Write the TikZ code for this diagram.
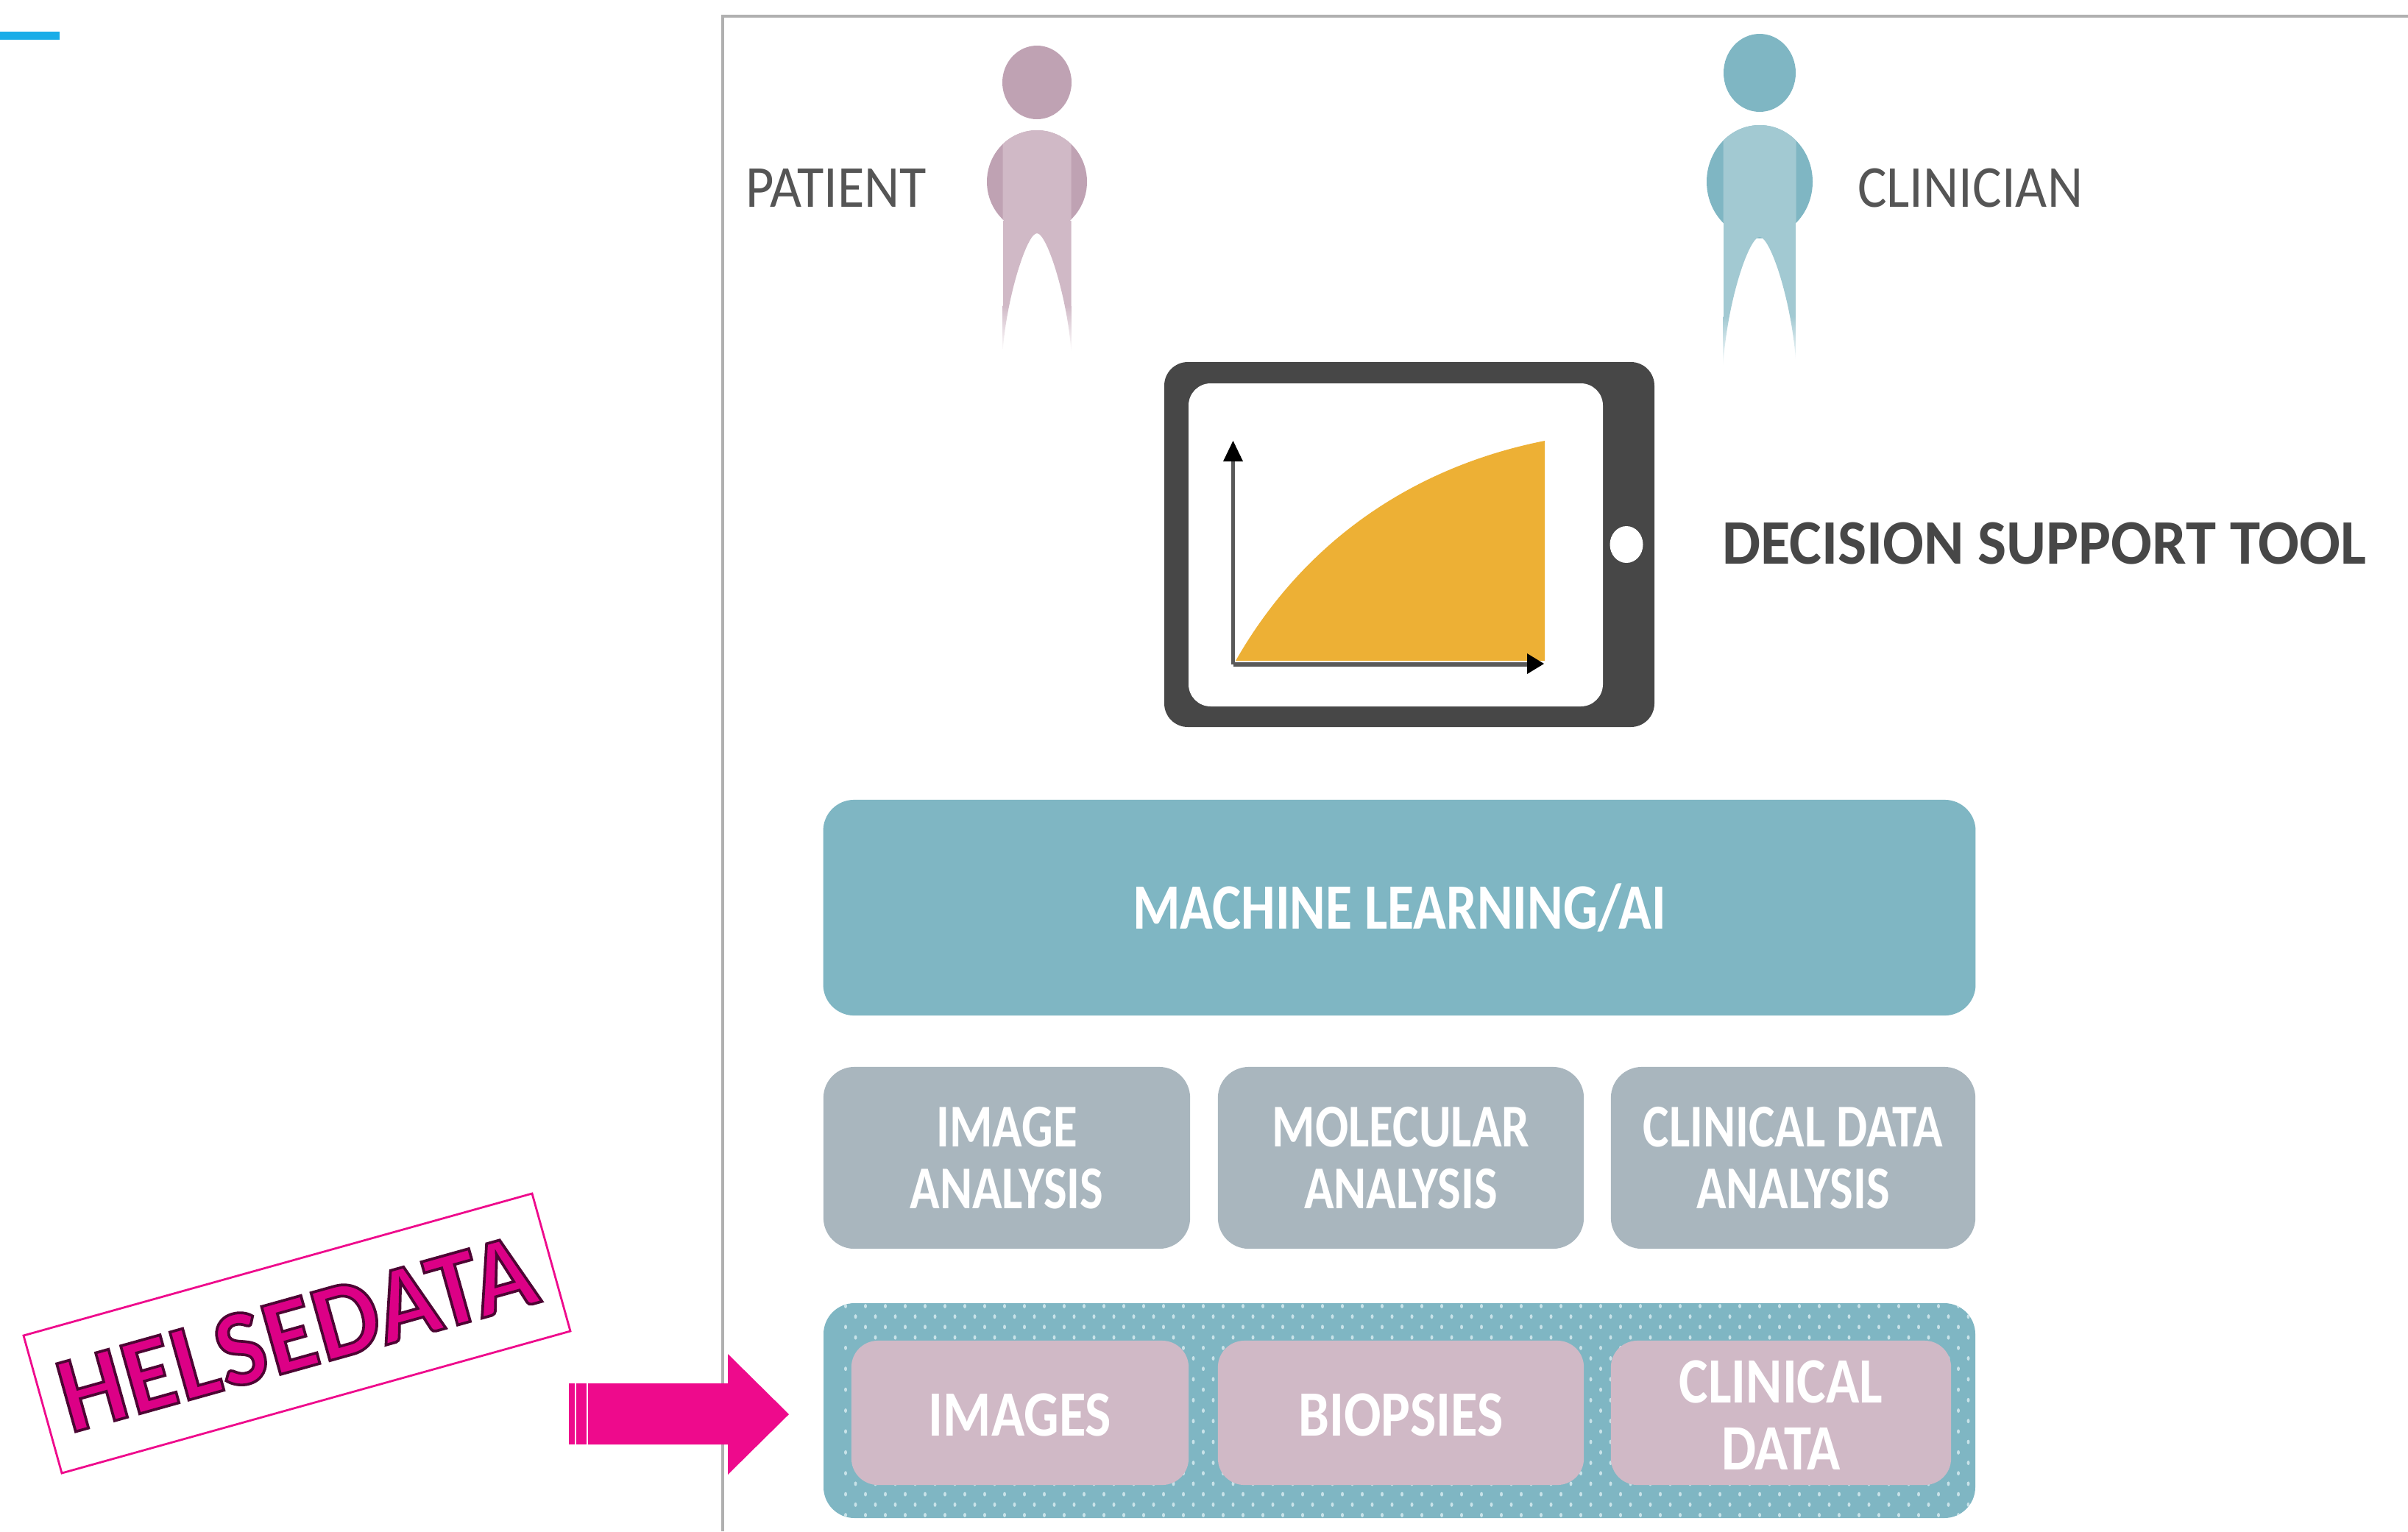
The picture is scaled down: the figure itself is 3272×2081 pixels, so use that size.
\documentclass[tikz,border=0pt]{standalone}
\usepackage{fontspec}
\setmainfont{Carlito}
\definecolor{teal1}{HTML}{7FB6C3}
\definecolor{teal2}{HTML}{A2C9D2}
\definecolor{dot1}{HTML}{C8E2E8}
\definecolor{mauve1}{HTML}{BFA2B3}
\definecolor{mauve2}{HTML}{D0B9C6}
\definecolor{greybox}{HTML}{A9B6BE}
\definecolor{framegrey}{HTML}{B0B0B0}
\definecolor{tabdark}{HTML}{474747}
\definecolor{chartfill}{HTML}{EDB035}
\definecolor{hotpink}{HTML}{EE0A8C}
\definecolor{wordpink}{HTML}{DC0086}
\definecolor{linkblue}{HTML}{1AADE8}
\definecolor{labelgrey}{HTML}{555555}
\newcommand{\pxfont}[3]{\fontsize{#1}{#2}\selectfont\addfontfeature{FakeStretch=#3}}
\newcommand{\padtop}{\rule{0pt}{18.1pt}}
\tikzset{
  panelbox/.style={rectangle,rounded corners=0.42cm,inner sep=0pt,text=white,align=center},
  mlbox/.style={panelbox,fill=teal1,font=\bfseries\pxfont{25pt}{30pt}{0.84}},
  greycard/.style={panelbox,fill=greybox,minimum height=2.47cm,font=\bfseries\pxfont{23.5pt}{23.8pt}{0.81}},
  pinkcard/.style={panelbox,fill=mauve2,minimum height=1.96cm,rounded corners=0.36cm,font=\bfseries\pxfont{25pt}{26pt}{0.85}},
  plainlabel/.style={inner sep=0pt,text=labelgrey,font=\pxfont{23pt}{28pt}{0.92}},
  boldlabel/.style={inner sep=0pt,text=tabdark,font=\bfseries\pxfont{24.5pt}{30pt}{0.96}},
  tiphead/.style={fill=black,draw=none},
  axisline/.style={draw=black!65,line width=1.6pt},
}
\newcommand{\personfig}[2]{%
  \fill[#1] (\pcx,\phy) ellipse [x radius=\phrx,y radius=\phry];
  \fill[#1] (\pcx,\pby) ellipse [x radius=\pbrx,y radius=\pbry];
  \begin{scope}
    \clip (\pcx-\pw,\ptop) rectangle (\pcx+\pw,\pjoin);
    \fill[#2] (\pcx,\pby) ellipse [x radius=\pbrx,y radius=\pbry];
  \end{scope}
  \begin{scope}
    \clip (\pcx-\pw,\pjoin-2) -- (\pcx+\pw,\pjoin-2) -- (\pcx+\pw,\pbot)
      .. controls (\pcx+0.9*\pw,\parch+90) and (\pcx+0.3*\pw,\parch) .. (\pcx,\parch)
      .. controls (\pcx-0.3*\pw,\parch) and (\pcx-0.9*\pw,\parch+90) .. (\pcx-\pw,\pbot) -- cycle;
    \fill[#2] (\pcx-\pw,\pjoin-2) rectangle (\pcx+\pw,\pfade);
    \shade[top color=#2,bottom color=white] (\pcx-\pw,\pfade) rectangle (\pcx+\pw,\pbot);
  \end{scope}
}
\begin{document}
\begin{tikzpicture}[x=0.01cm,y=-0.01cm]
\useasboundingbox (0,0) rectangle (3272,2081);
% accent rule
\fill[linkblue] (0,43) rectangle (81,54);
% frame
\draw[framegrey,line width=1.4pt] (982,2081) -- (982,22) -- (3272,22);
% patient
\def\pcx{1409}\def\phy{112}\def\phrx{47}\def\phry{50}
\def\ptop{177}\def\pby{247}\def\pbrx{68}\def\pbry{70}\def\pw{46.5}
\def\pjoin{302}\def\parch{317}\def\pbot{478}\def\pfade{415}
\personfig{mauve1}{mauve2}
\node[plainlabel,anchor=center] (patient) at (1136,256) {PATIENT};
% clinician
\def\pcx{2391}\def\phy{99}\def\phrx{49}\def\phry{53}
\def\ptop{170}\def\pby{247}\def\pbrx{72}\def\pbry{77}\def\pw{49.5}
\def\pjoin{305}\def\parch{322}\def\pbot{496}\def\pfade{430}
\personfig{teal1}{teal2}
\node[plainlabel,anchor=center] (clinician) at (2677,256) {CLINICIAN};
% tablet
\fill[tabdark,rounded corners=0.32cm] (1582,492) rectangle (2248,988);
\fill[white,rounded corners=0.3cm] (1615,521) rectangle (2178,960);
\fill[white] (2210,740) ellipse [x radius=22.5,y radius=25];
\fill[chartfill] (1679,898) .. controls (1775,730) and (1927,633) .. (2099,599) -- (2099,898) -- cycle;
\draw[axisline] (1675.5,903) -- (1675.5,625);
\draw[axisline] (1675.5,903) -- (2075,903);
\fill[tiphead] (1675.5,599) -- (1689,627) -- (1662,627) -- cycle;
\fill[tiphead] (2098,902) -- (2075,888) -- (2075,916) -- cycle;
\node[boldlabel] (tool) at (2778,739) {DECISION SUPPORT TOOL};
% machine learning
\node[mlbox,minimum width=15.65cm,minimum height=2.93cm] (ml) at (1901.5,1233.5) {MACHINE LEARNING/AI};
% analysis row
\node[greycard,minimum width=4.98cm] (ia) at (1368,1573.5) {IMAGE\\ANALYSIS};
\node[greycard,minimum width=4.97cm] (ma) at (1903.5,1573.5) {MOLECULAR\\ANALYSIS};
\node[greycard,minimum width=4.95cm] (ca) at (2436.5,1573.5) {CLINICAL DATA\\ANALYSIS};
% dotted band
\fill[teal1,rounded corners=0.42cm] (1119,1771) rectangle (2684,2063);
\begin{scope}
  \clip[rounded corners=0.42cm] (1119,1771) rectangle (2684,2063);
  \foreach \r in {0,...,20}
    \foreach \c in {0,...,58}
      \fill[dot1] ({1149+27*\c+13.5*mod(\r,2)},{1775+14.2*\r}) ellipse [x radius=2,y radius=3];
\end{scope}
\node[pinkcard,minimum width=4.58cm] (images) at (1386,1920) {\padtop IMAGES};
\node[pinkcard,minimum width=4.97cm] (biopsies) at (1903.5,1920) {\padtop BIOPSIES};
\node[pinkcard,minimum width=4.62cm] (clindata) at (2420,1920) {\padtop CLINICAL\\DATA};
% pink arrow
\fill[hotpink] (773,1880) rectangle (780.5,1963);
\fill[hotpink] (783,1880) rectangle (796.5,1963);
\fill[hotpink] (799,1880) -- (989,1880) -- (989,1840) -- (1072,1922) -- (989,2004) -- (989,1963) -- (799,1963) -- cycle;
% helsedata stamp
\draw[hotpink,line width=0.8pt] (723,1622) -- (775,1809) -- (84,2002) -- (32,1815) -- cycle;
\node[inner sep=0pt,rotate=15.6,text=wordpink,font=\bfseries\pxfont{42pt}{46pt}{0.95}] (stamp) at (403,1812)
  {\special{pdf:code 0.3 0.02 0.2 RG}\addfontfeature{FakeBold=2.5,LetterSpace=1}HELSEDATA};
\end{tikzpicture}
\end{document}
